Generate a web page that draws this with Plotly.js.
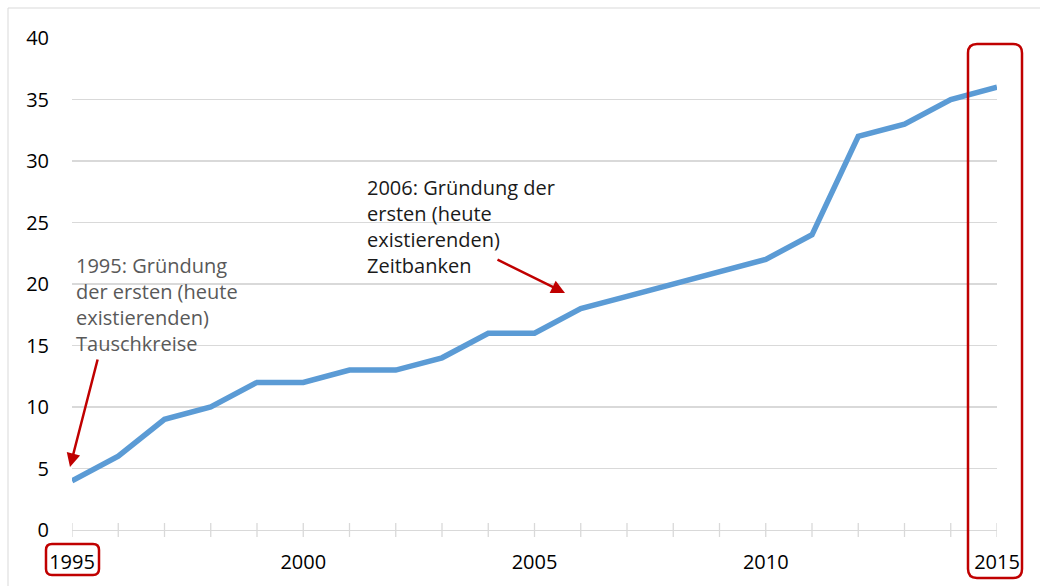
<!DOCTYPE html>
<html>
<head>
<meta charset="utf-8">
<script src="https://cdn.plot.ly/plotly-3.0.1.min.js"></script>
<style>html,body{margin:0;padding:0;background:#fff;}#chart{width:1040px;height:586px;}</style>
</head>
<body>
<div id="chart"></div>
<script>
// ---- data ----
var years = [1995,1996,1997,1998,1999,2000,2001,2002,2003,2004,2005,2006,2007,2008,2009,2010,2011,2012,2013,2014,2015];
var counts = [4,6,9,10,12,12,13,13,14,16,16,18,19,20,21,22,24,32,33,35,36];
var xTickVals = [1995,2000,2005,2010,2015];
var xTickText = ['1995','2000','2005','2010','2015'];
var yTickVals = [0,5,10,15,20,25,30,35,40];
var note1 = '1995: Gründung<br>der ersten (heute<br>existierenden)<br>Tauschkreise';
var note2 = '2006: Gründung der<br>ersten (heute<br>existierenden)<br>Zeitbanken';

// ---- layout helpers (pixel -> paper) ----
var W = 1040, H = 586, L = 72, R = 43, T = 38, B = 56;
var PW = W - L - R, PH = H - T - B;
function px(X){ return (X - L) / PW; }
function py(Y){ return (H - B - Y) / PH; }
function rrect(x0,y0,x1,y1,r){
  function p(X,Y){ return px(X).toFixed(5) + ',' + py(Y).toFixed(5); }
  return 'M' + p(x0+r,y0) + ' L' + p(x1-r,y0) + ' Q' + p(x1,y0) + ' ' + p(x1,y0+r) +
         ' L' + p(x1,y1-r) + ' Q' + p(x1,y1) + ' ' + p(x1-r,y1) +
         ' L' + p(x0+r,y1) + ' Q' + p(x0,y1) + ' ' + p(x0,y1-r) +
         ' L' + p(x0,y0+r) + ' Q' + p(x0,y0) + ' ' + p(x0+r,y0) + ' Z';
}

var font = 'Open Sans, Calibri, sans-serif';
var trace = {
  x: years, y: counts, type: 'scatter', mode: 'lines',
  line: {color: '#5b9bd5', width: 5.5, shape: 'linear'},
  hoverinfo: 'x+y', cliponaxis: false
};

var shapes = [];
// border of chart area
shapes.push({type:'rect', xref:'paper', yref:'paper', x0:px(8), y0:py(8), x1:px(1060), y1:py(610),
  line:{color:'#d9d9d9', width:1}, layer:'below'});
// crossing tick marks at each year
years.forEach(function(yr){
  shapes.push({type:'line', xref:'x', yref:'paper', x0:yr, x1:yr, y0:-7/PH, y1:7/PH,
    line:{color:'#d9d9d9', width:1.3}, layer:'below'});
});
// red highlight boxes
shapes.push({type:'path', xref:'paper', yref:'paper', path: rrect(46,544,99,575,6),
  line:{color:'#c00000', width:2.5}});
shapes.push({type:'path', xref:'paper', yref:'paper', path: rrect(968,44,1022,578,9),
  line:{color:'#c00000', width:2.5}});

var annotations = [
  {xref:'paper', yref:'paper', x:px(74), y:py(250), xanchor:'left', yanchor:'top', align:'left',
   text: note1, showarrow:false, font:{family:font, size:20, color:'#595959'}},
  {xref:'paper', yref:'paper', x:px(365), y:py(172), xanchor:'left', yanchor:'top', align:'left',
   text: note2, showarrow:false, font:{family:font, size:20, color:'#1a1a1a'}},
  {xref:'paper', yref:'paper', x:px(70), y:py(467), text:'', showarrow:true,
   ax:28, ay:-109, arrowhead:2, arrowsize:1.1, arrowwidth:2.5, arrowcolor:'#c00000', standoff:0},
  {xref:'paper', yref:'paper', x:px(565), y:py(293), text:'', showarrow:true,
   ax:-69, ay:-34, arrowhead:2, arrowsize:1.1, arrowwidth:2.5, arrowcolor:'#c00000', standoff:0}
];

var layout = {
  width: W, height: H,
  margin: {l: L, r: R, t: T, b: B, pad: 0},
  paper_bgcolor: '#ffffff', plot_bgcolor: '#ffffff',
  showlegend: false,
  xaxis: {
    range: [1995, 2015], tickvals: xTickVals, ticktext: xTickText,
    showgrid: false, zeroline: false, showline: true, linecolor: '#d9d9d9', linewidth: 1.3,
    ticks: '', ticklabelstandoff: 14,
    tickfont: {family: font, size: 20, color: '#000000'}
  },
  yaxis: {
    range: [0, 40], tickvals: yTickVals,
    showgrid: true, gridcolor: '#d9d9d9', gridwidth: 1.3, zeroline: false, showline: false,
    ticks: '', ticklabelstandoff: 22,
    tickfont: {family: font, size: 20, color: '#000000'}
  },
  shapes: shapes,
  annotations: annotations
};

Plotly.newPlot('chart', [trace], layout, {displayModeBar: false, staticPlot: true});
</script>
</body>
</html>
